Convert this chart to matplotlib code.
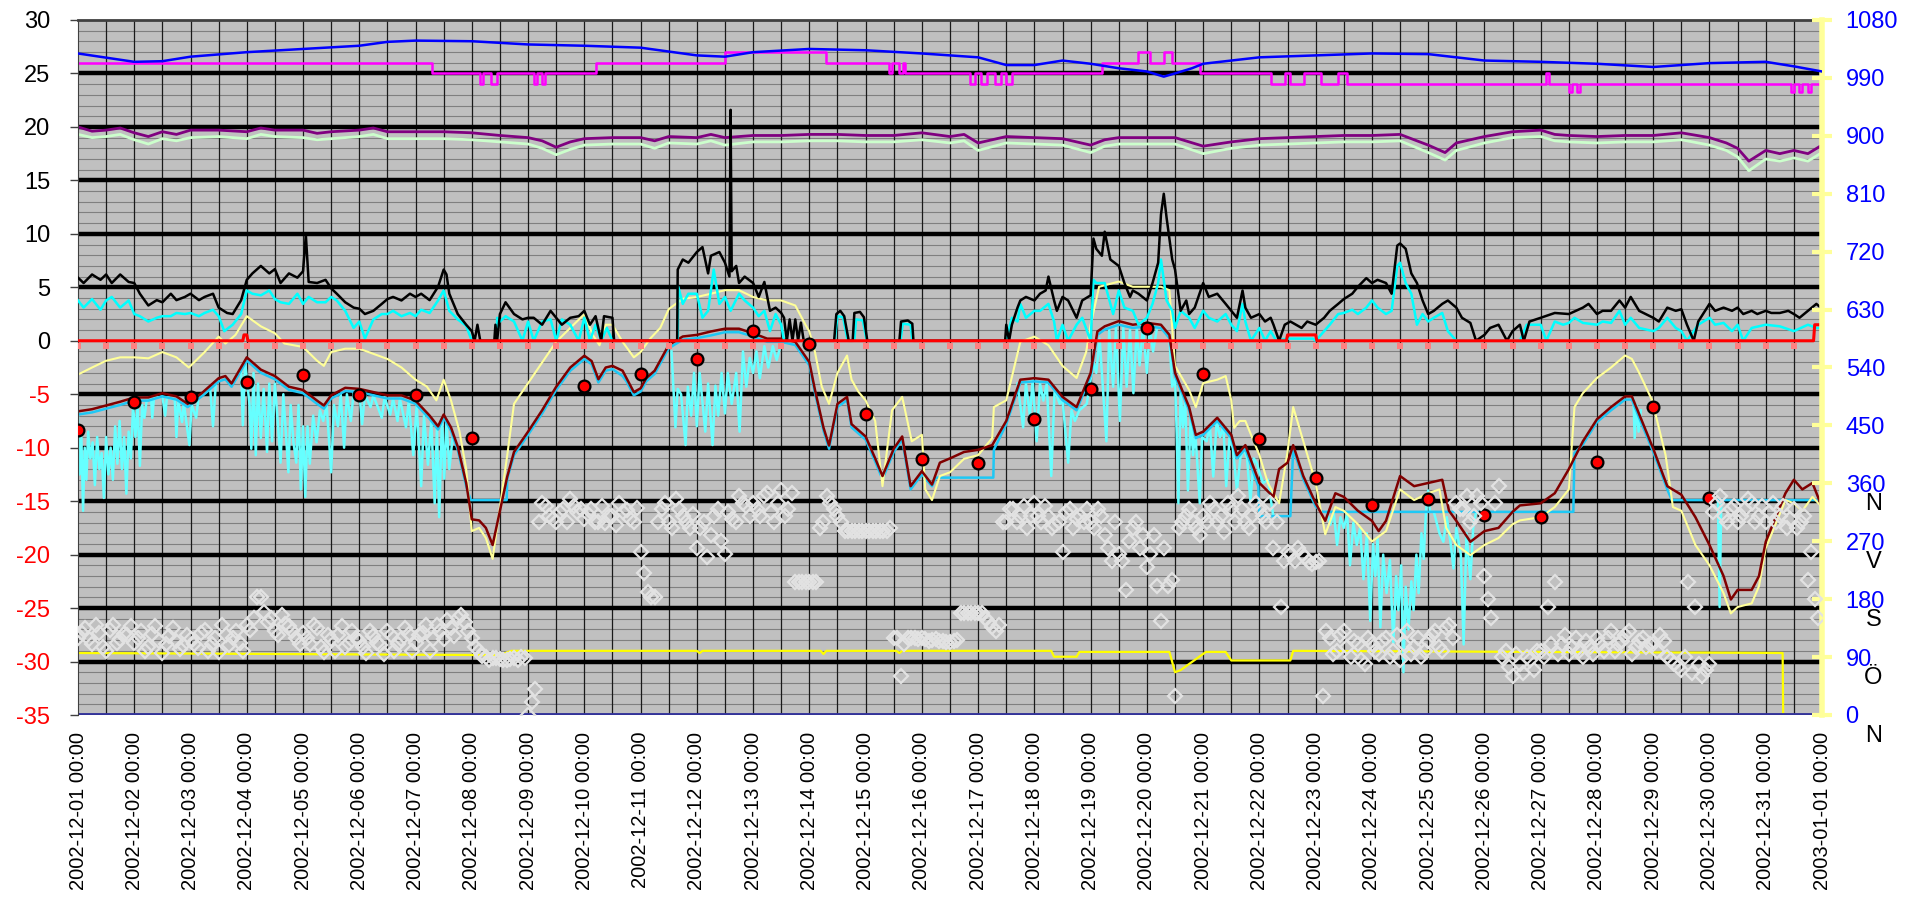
import numpy as np
import pandas as pd
import matplotlib.pyplot as plt

plt.rcParams['font.family'] = ['Liberation Sans', 'DejaVu Sans']

# x axis: days after 2002-12-01 00:00
dates = pd.date_range('2002-12-01', '2003-01-01', freq='D')
date_labels = [d.strftime('%Y-%m-%d %H:%M') for d in dates]

left_ticks = list(range(-35, 31, 5))
right_ticks = list(range(0, 1081, 90))
compass = [(360, 'N'), (270, 'V'), (180, 'S'), (90, 'Ö'), (0, 'N')]

# lufttryck (hPa, höger axel)
pressure = [(0, 1028), (1, 1015), (1.5, 1016), (2, 1023), (3, 1030), (4, 1035), (5, 1040), (5.5, 1046),
            (6, 1048), (7, 1047), (8, 1042), (9, 1040), (10, 1037), (11, 1025), (11.5, 1023), (12, 1030),
            (13, 1035), (14, 1033), (15, 1028), (16, 1022), (16.5, 1010), (17, 1010), (17.5, 1017),
            (18, 1012), (18.5, 1005), (19, 1000), (19.3, 992), (19.5, 997), (19.8, 1005), (20, 1012),
            (20.5, 1017), (21, 1022), (22, 1025), (23, 1028), (24, 1027), (25, 1017), (26, 1015),
            (27, 1012), (28, 1007), (29, 1013), (30, 1015), (30.5, 1008), (31, 1000)]

# trappstegsserie (magenta), värdet gäller till nästa tidpunkt
magenta = [(0, 26), (6.3, 25), (7.15, 24), (7.2, 25), (7.35, 24), (7.45, 25), (8.1, 24), (8.15, 25),
           (8.25, 24), (8.3, 25), (9.2, 26), (11.5, 27), (13.3, 26), (14.42, 25), (14.47, 26), (14.6, 25),
           (14.66, 26), (14.7, 25), (15.85, 24), (15.95, 25), (16.05, 24), (16.15, 25), (16.3, 24),
           (16.4, 25), (16.5, 24), (16.6, 25), (18.2, 26), (18.85, 27), (19.05, 26), (19.3, 27),
           (19.45, 26), (19.95, 25), (21.2, 24), (21.45, 25), (21.55, 24), (21.8, 25), (22.1, 24),
           (22.4, 25), (22.55, 24), (26.1, 25), (26.15, 24), (26.5, 23.3), (26.55, 24), (26.65, 23.3),
           (26.7, 24), (30.45, 23.3), (30.5, 24), (30.6, 23.3), (30.65, 24), (30.75, 23.3), (30.8, 24),
           (31, 24)]

purple = [(0, 20.0), (0.25, 19.6), (0.5, 19.7), (0.75, 19.9), (1, 19.45), (1.25, 19.1), (1.5, 19.55),
          (1.75, 19.3), (2, 19.7), (2.5, 19.7), (3, 19.55), (3.25, 19.9), (3.5, 19.7), (4, 19.7),
          (4.25, 19.4), (4.5, 19.55), (5, 19.7), (5.25, 19.9), (5.5, 19.55), (6, 19.55), (6.5, 19.55),
          (7, 19.45), (7.5, 19.2), (8, 19.0), (8.25, 18.7), (8.5, 18.1), (8.75, 18.6), (9, 18.9), (9.5, 19.0),
          (10, 19.0), (10.25, 18.7), (10.5, 19.1), (11, 19.0), (11.25, 19.3), (11.5, 19.0), (12, 19.2),
          (12.5, 19.2), (13, 19.3), (13.5, 19.3), (14, 19.2), (14.5, 19.2), (15, 19.45), (15.5, 19.1),
          (15.75, 19.3), (16, 18.5), (16.5, 19.1), (17, 19.0), (17.5, 18.9), (18, 18.3), (18.25, 18.8),
          (18.5, 19.0), (19, 19.0), (19.5, 19.0), (20, 18.2), (20.5, 18.6), (21, 18.9), (21.5, 19.0),
          (22, 19.1), (22.5, 19.2), (23, 19.2), (23.5, 19.3), (24, 18.3), (24.3, 17.6), (24.5, 18.5),
          (25, 19.1), (25.5, 19.55), (26, 19.7), (26.25, 19.3), (26.5, 19.2), (27, 19.1), (27.5, 19.2),
          (28, 19.2), (28.5, 19.45), (29, 19.0), (29.3, 18.5), (29.5, 18.0), (29.7, 16.8), (30, 17.8),
          (30.25, 17.5), (30.5, 17.8), (30.75, 17.5), (31, 18.3)]

lightgreen = [(0, 19.3), (0.25, 19.0), (0.5, 19.1), (0.75, 19.3), (1, 18.8), (1.25, 18.4), (1.5, 18.9),
              (1.75, 18.7), (2, 19.0), (2.5, 19.1), (3, 18.9), (3.25, 19.3), (3.5, 19.1), (4, 19.0),
              (4.25, 18.8), (4.5, 18.9), (5, 19.1), (5.25, 19.3), (5.5, 18.9), (6, 18.9), (6.5, 18.9),
              (7, 18.8), (7.5, 18.6), (8, 18.4), (8.25, 18.0), (8.5, 17.4), (8.75, 17.9), (9, 18.3), (9.5, 18.4),
              (10, 18.4), (10.25, 18.0), (10.5, 18.5), (11, 18.4), (11.25, 18.7), (11.5, 18.3), (12, 18.6),
              (12.5, 18.6), (13, 18.7), (13.5, 18.7), (14, 18.6), (14.5, 18.6), (15, 18.8), (15.5, 18.5),
              (15.75, 18.7), (16, 17.8), (16.5, 18.5), (17, 18.4), (17.5, 18.3), (18, 17.6), (18.25, 18.2),
              (18.5, 18.4), (19, 18.4), (19.5, 18.4), (20, 17.5), (20.5, 18.0), (21, 18.3), (21.5, 18.4),
              (22, 18.5), (22.5, 18.6), (23, 18.6), (23.5, 18.7), (24, 17.6), (24.3, 16.9), (24.5, 17.8),
              (25, 18.5), (25.5, 19.0), (26, 19.1), (26.25, 18.7), (26.5, 18.6), (27, 18.5), (27.5, 18.6),
              (28, 18.6), (28.5, 18.8), (29, 18.3), (29.3, 17.8), (29.5, 17.2), (29.7, 15.9), (30, 17.0),
              (30.25, 16.8), (30.5, 17.1), (30.75, 16.8), (31, 17.6)]

# vindby (svart) och medelvind (turkos)
gust = [(0.0, 5.9), (0.1, 5.4), (0.25, 6.2), (0.4, 5.7), (0.5, 6.2), (0.6, 5.4), (0.75, 6.2), (0.9, 5.5),
        (1.0, 5.4), (1.1, 4.4), (1.25, 3.3), (1.4, 3.8), (1.5, 3.6), (1.65, 4.4), (1.75, 3.8), (1.9, 4.1),
        (2.0, 4.4), (2.15, 3.8), (2.25, 4.1), (2.4, 4.4), (2.5, 3.1), (2.65, 2.6), (2.75, 2.5), (2.9, 3.8),
        (3.0, 5.7), (3.1, 6.3), (3.25, 7.0), (3.4, 6.3), (3.5, 6.7), (3.6, 5.4), (3.75, 6.3), (3.9, 5.9),
        (4.0, 6.5), (4.05, 9.9), (4.1, 5.5), (4.25, 5.4), (4.4, 5.7), (4.5, 4.9), (4.6, 4.4), (4.75, 3.6),
        (4.9, 3.1), (5.0, 3.0), (5.1, 2.5), (5.25, 2.8), (5.4, 3.45), (5.5, 3.9), (5.6, 4.1), (5.75, 3.77),
        (5.9, 4.4), (6.0, 4.1), (6.1, 4.4), (6.25, 3.8), (6.4, 5.05), (6.5, 6.66), (6.55, 6.2), (6.6, 4.4),
        (6.75, 2.5), (6.9, 1.5), (7.0, 0.9), (7.05, 0), (7.1, 1.5), (7.15, 0), (7.4, 0), (7.42, 1.5),
        (7.45, 0), (7.5, 2.5), (7.6, 3.6), (7.75, 2.5), (7.9, 2.0), (8.0, 2.15), (8.1, 2.15), (8.25, 1.5),
        (8.4, 2.8), (8.5, 2.15), (8.6, 1.5), (8.75, 2.15), (8.9, 2.3), (9.0, 2.8), (9.1, 1.5), (9.2, 2.3),
        (9.3, 0), (9.35, 2.3), (9.5, 2.15), (9.53, 0), (10.65, 0), (10.66, 6.66), (10.75, 7.6),
        (10.85, 7.3), (11.0, 8.3), (11.1, 8.76), (11.2, 6.3), (11.25, 7.95), (11.4, 8.3), (11.5, 7.3),
        (11.58, 6.0), (11.6, 21.6), (11.62, 6.5), (11.7, 7.0), (11.75, 5.4), (11.85, 6.0), (12.0, 5.4),
        (12.1, 4.1), (12.2, 5.5), (12.3, 2.8), (12.4, 3.1), (12.5, 2.6), (12.55, 2.15), (12.6, 0),
        (12.65, 2.0), (12.7, 0), (12.75, 2.0), (12.8, 0), (12.85, 1.7), (12.9, 0), (13.44, 0), (13.48, 2.5),
        (13.55, 2.8), (13.62, 2.3), (13.7, 0), (13.77, 0), (13.8, 2.6), (13.9, 2.7), (13.97, 2.2),
        (14.03, 0), (14.6, 0), (14.63, 1.8), (14.75, 1.9), (14.83, 1.6), (14.85, 0), (16.48, 0),
        (16.5, 1.5), (16.55, 0), (16.6, 1.5), (16.7, 3.1), (16.75, 3.77), (16.85, 4.1), (17.0, 3.77),
        (17.1, 4.4), (17.2, 4.7), (17.25, 6.0), (17.35, 3.77), (17.4, 2.8), (17.5, 4.1), (17.6, 3.77),
        (17.75, 2.15), (17.85, 3.77), (18.0, 4.25), (18.05, 9.56), (18.1, 8.6), (18.2, 7.95), (18.25, 10.2),
        (18.35, 7.6), (18.5, 7.0), (18.6, 5.4), (18.7, 4.1), (18.75, 4.7), (18.85, 4.4), (19.0, 3.77),
        (19.1, 5.4), (19.2, 7.3), (19.25, 11.8), (19.3, 13.75), (19.35, 11.5), (19.45, 7.6), (19.5, 6.66),
        (19.6, 2.8), (19.7, 3.77), (19.75, 2.5), (19.85, 3.1), (20.0, 5.4), (20.1, 4.1), (20.25, 4.4),
        (20.4, 3.45), (20.5, 2.8), (20.6, 2.15), (20.7, 4.7), (20.75, 3.1), (20.85, 2.15), (21.0, 2.5),
        (21.1, 1.8), (21.2, 2.15), (21.25, 1.5), (21.35, 0), (21.45, 1.5), (21.55, 1.8), (21.65, 1.5),
        (21.75, 1.2), (21.85, 1.8), (22.0, 1.5), (22.15, 2.15), (22.25, 2.8), (22.4, 3.45), (22.5, 3.9),
        (22.65, 4.4), (22.75, 5.05), (22.9, 5.86), (23.0, 5.4), (23.1, 5.7), (23.25, 5.4), (23.35, 4.4),
        (23.45, 8.9), (23.5, 9.1), (23.6, 8.6), (23.7, 6.3), (23.8, 5.4), (23.9, 3.77), (24.0, 2.5),
        (24.1, 2.8), (24.25, 3.45), (24.35, 3.77), (24.5, 3.1), (24.6, 2.15), (24.75, 1.67), (24.85, 0),
        (25.0, 0.55), (25.1, 1.2), (25.25, 1.5), (25.4, 0), (25.5, 0.9), (25.63, 1.5), (25.7, 0),
        (25.8, 1.8), (26.0, 2.15), (26.25, 2.6), (26.5, 2.5), (26.75, 3.1), (26.85, 3.45), (27.0, 2.5),
        (27.1, 2.8), (27.25, 2.8), (27.4, 3.77), (27.5, 3.1), (27.6, 4.1), (27.75, 2.8), (28.0, 2.15),
        (28.1, 1.8), (28.25, 3.1), (28.4, 2.8), (28.5, 2.95), (28.6, 1.5), (28.72, 0), (28.8, 1.8),
        (29.0, 3.45), (29.1, 2.8), (29.25, 3.1), (29.4, 2.8), (29.5, 3.1), (29.6, 2.5), (29.75, 2.8),
        (29.85, 2.5), (30.0, 2.8), (30.1, 2.6), (30.25, 2.6), (30.4, 2.8), (30.5, 2.5), (30.6, 2.15),
        (30.75, 2.8), (30.9, 3.45), (31.0, 3.0)]

wind = [(0.0, 3.77), (0.1, 3.1), (0.25, 3.9), (0.4, 2.9), (0.5, 3.77), (0.6, 4.1), (0.75, 3.1), (0.9, 3.77),
        (1.0, 2.5), (1.1, 2.3), (1.25, 1.8), (1.4, 2.15), (1.5, 2.3), (1.65, 2.3), (1.75, 2.6), (1.9, 2.5),
        (2.0, 2.6), (2.15, 2.3), (2.25, 2.6), (2.4, 2.9), (2.5, 2.3), (2.6, 0.9), (2.75, 1.5), (2.9, 2.5),
        (3.0, 4.7), (3.1, 4.4), (3.25, 4.25), (3.4, 4.7), (3.5, 3.9), (3.6, 3.6), (3.75, 3.45), (3.9, 4.4),
        (4.0, 3.45), (4.1, 4.1), (4.25, 3.6), (4.4, 3.6), (4.5, 4.1), (4.6, 3.77), (4.75, 2.8), (4.9, 1.2),
        (5.0, 1.8), (5.1, 0.2), (5.25, 2.0), (5.4, 2.5), (5.5, 2.5), (5.6, 2.8), (5.75, 2.3), (5.9, 2.6),
        (6.0, 2.3), (6.1, 2.9), (6.25, 2.6), (6.4, 3.77), (6.5, 4.7), (6.6, 2.8), (6.75, 2.0), (6.9, 1.4),
        (7.0, 0), (7.44, 0), (7.45, 2.15), (7.5, 1.8), (7.6, 2.3), (7.75, 1.8), (7.9, 0), (8.0, 1.8),
        (8.1, 0), (8.25, 1.8), (8.4, 2.0), (8.5, 0), (8.6, 2.0), (8.75, 1.5), (8.9, 0), (9.0, 2.15),
        (9.1, 0), (9.2, 1.5), (9.3, 0), (9.4, 1.2), (9.5, 0), (10.66, 0), (10.67, 5.05), (10.75, 3.45),
        (10.85, 4.4), (11.0, 4.4), (11.1, 2.15), (11.2, 2.8), (11.3, 6.66), (11.4, 3.45), (11.5, 4.1),
        (11.6, 2.8), (11.75, 4.4), (11.85, 3.77), (12.0, 3.1), (12.1, 2.3), (12.2, 2.8), (12.3, 0.9),
        (12.4, 2.5), (12.5, 1.5), (12.55, 0), (13.45, 0), (13.5, 2.3), (13.6, 2.2), (13.68, 0), (13.8, 0),
        (13.83, 2.0), (13.95, 1.9), (14.02, 0), (14.62, 0), (14.66, 1.6), (14.8, 1.5), (14.83, 0),
        (16.5, 0), (16.6, 2.15), (16.7, 1.8), (16.75, 3.45), (16.85, 2.15), (17.0, 2.8), (17.1, 2.8),
        (17.25, 3.45), (17.35, 1.8), (17.4, 0), (17.5, 1.5), (17.6, 0), (17.75, 1.5), (17.85, 2.15),
        (18.0, 0), (18.05, 5.7), (18.1, 5.4), (18.25, 5.4), (18.4, 2.5), (18.5, 4.7), (18.6, 3.1),
        (18.75, 2.8), (18.85, 1.5), (19.0, 2.15), (19.1, 3.45), (19.2, 5.4), (19.25, 7.6), (19.35, 3.77),
        (19.45, 2.8), (19.5, 1.2), (19.6, 2.8), (19.75, 2.15), (19.85, 1.2), (20.0, 2.8), (20.1, 2.15),
        (20.25, 1.8), (20.4, 2.5), (20.5, 1.5), (20.6, 0.9), (20.7, 3.45), (20.75, 1.8), (20.85, 0),
        (21.0, 1.2), (21.1, 0), (21.2, 0.9), (21.3, 0), (21.5, 0.2), (21.95, 0.2), (22.0, 0),
        (22.25, 1.5), (22.4, 2.5), (22.5, 2.6), (22.65, 2.9), (22.75, 2.5), (22.9, 3.1), (23.0, 3.77),
        (23.1, 3.1), (23.25, 2.5), (23.35, 2.8), (23.45, 7.0), (23.5, 7.3), (23.6, 5.4), (23.7, 4.4),
        (23.8, 1.5), (23.9, 2.5), (24.0, 1.8), (24.1, 2.15), (24.25, 2.6), (24.35, 0.9), (24.5, 0),
        (25.63, 0), (25.75, 1.5), (26.0, 1.5), (26.1, 0), (26.25, 1.8), (26.4, 1.5), (26.5, 1.67),
        (26.6, 2.15), (26.75, 1.67), (27.0, 1.5), (27.1, 1.8), (27.25, 1.67), (27.4, 2.8), (27.5, 1.5),
        (27.6, 2.15), (27.75, 1.2), (28.0, 0.9), (28.1, 1.2), (28.25, 2.15), (28.4, 1.2), (28.5, 0.9),
        (28.6, 0), (28.8, 1.5), (29.0, 2.15), (29.1, 1.5), (29.25, 1.67), (29.4, 0.9), (29.5, 1.5),
        (29.6, 0), (29.75, 1.2), (30.0, 1.5), (30.25, 1.35), (30.5, 0.9), (30.75, 1.5), (30.9, 1.2),
        (31.0, 1.2)]

# nederbörd (röd linje) och markering var 12:e timme
precip = [(0, 0), (2.93, 0), (2.95, 0.55), (3.0, 0.55), (3.02, 0), (21.48, 0), (21.5, 0.55), (22.0, 0.55),
          (22.02, 0), (30.85, 0), (30.87, 1.5), (31.0, 1.5)]
flag_t = [i * 0.5 for i in range(63)]
flag_v = [-0.45] * 63

# temperatur (mörkröd)
temp = [(0.0, -6.6), (0.25, -6.4), (0.5, -6.05), (0.75, -5.7), (1.0, -5.3), (1.25, -5.3), (1.5, -4.9),
        (1.75, -5.2), (1.95, -5.9), (2.2, -4.9), (2.5, -3.5), (2.62, -3.3), (2.73, -4.0), (3.0, -1.55),
        (3.25, -2.7), (3.5, -3.3), (3.75, -4.3), (4.0, -4.6), (4.25, -5.6), (4.37, -6.05), (4.5, -5.1),
        (4.75, -4.4), (5.0, -4.5), (5.25, -4.8), (5.5, -5.1), (5.75, -5.1), (6.0, -5.6), (6.25, -7.0),
        (6.4, -8.0), (6.5, -6.9), (6.63, -8.1), (6.75, -9.9), (6.9, -13.3), (7.0, -16.7), (7.13, -16.8),
        (7.25, -17.5), (7.37, -19.1), (7.5, -15.9), (7.63, -12.7), (7.75, -10.4), (8.0, -8.5), (8.25, -6.5),
        (8.5, -4.3), (8.75, -2.5), (9.0, -1.4), (9.13, -1.9), (9.25, -3.6), (9.38, -2.5), (9.5, -2.35),
        (9.68, -2.8), (9.75, -3.5), (9.88, -4.8), (10.0, -4.45), (10.1, -3.5), (10.25, -2.8), (10.5, -0.4),
        (10.75, 0.4), (11.0, 0.55), (11.25, 0.87), (11.5, 1.13), (11.75, 1.13), (12.0, 0.7), (12.25, 0.2),
        (12.5, 0.2), (12.75, -0.1), (13.0, -2.0), (13.1, -4.6), (13.25, -8.1), (13.35, -9.8), (13.5, -5.9),
        (13.67, -5.25), (13.75, -7.8), (14.0, -8.95), (14.17, -11.0), (14.3, -12.65), (14.5, -10.1),
        (14.65, -8.95), (14.8, -13.6), (15.0, -12.2), (15.18, -13.45), (15.32, -11.4), (15.5, -11.0),
        (15.75, -10.4), (16.0, -10.2), (16.25, -9.76), (16.5, -7.5), (16.75, -3.64), (17.0, -3.5),
        (17.25, -3.64), (17.5, -5.25), (17.75, -6.2), (18.0, -3.0), (18.12, 0.87), (18.25, 1.35),
        (18.5, 1.84), (18.75, 1.5), (19.0, 1.67), (19.25, 1.5), (19.4, 0.55), (19.5, -3.0), (19.75, -6.2),
        (19.87, -8.8), (20.0, -8.5), (20.25, -7.2), (20.5, -8.8), (20.6, -10.7), (20.75, -9.76),
        (21.0, -13.3), (21.25, -14.6), (21.35, -12.0), (21.5, -11.4), (21.6, -9.76), (21.78, -12.65),
        (22.0, -15.2), (22.17, -16.84), (22.35, -14.26), (22.5, -14.6), (22.75, -15.9), (23.0, -16.84),
        (23.12, -17.8), (23.25, -16.84), (23.5, -12.65), (23.75, -13.6), (24.0, -13.3), (24.25, -13.0),
        (24.37, -15.9), (24.5, -16.84), (24.75, -18.8), (25.0, -17.8), (25.25, -17.5), (25.5, -16.0),
        (25.63, -15.4), (26.0, -15.2), (26.25, -14.26), (26.5, -12.0), (26.75, -9.4), (27.0, -7.34),
        (27.25, -6.2), (27.5, -5.2), (27.62, -5.2), (27.75, -6.86), (28.0, -10.1), (28.25, -13.6),
        (28.5, -14.4), (28.75, -16.5), (29.0, -19.1), (29.25, -22.0), (29.38, -24.2), (29.5, -23.3),
        (29.75, -23.3), (29.88, -22.0), (30.0, -18.8), (30.25, -15.55), (30.35, -14.26), (30.5, -13.0),
        (30.65, -13.9), (30.83, -13.3), (31.0, -15.55)]

# marktemperatur (himmelsblå)
ground = [(0.0, -6.9), (0.25, -6.7), (0.5, -6.35), (0.75, -6.0), (1.0, -5.6), (1.25, -5.6), (1.5, -5.2),
          (1.75, -5.5), (1.95, -6.2), (2.2, -5.2), (2.5, -3.8), (2.62, -3.6), (2.73, -4.3), (3.0, -1.85),
          (3.25, -3.0), (3.5, -3.6), (3.75, -4.6), (4.0, -4.9), (4.25, -5.9), (4.37, -6.35), (4.5, -5.4),
          (4.75, -4.7), (5.0, -4.8), (5.25, -5.1), (5.5, -5.4), (5.75, -5.4), (6.0, -5.9), (6.25, -7.3),
          (6.4, -8.3), (6.5, -7.2), (6.63, -8.4), (6.75, -10.2), (6.9, -13.6), (6.98, -14.9), (7.62, -14.9),
          (7.63, -12.9), (7.75, -10.7), (8.0, -8.8), (8.25, -6.8), (8.5, -4.6), (8.75, -2.8), (9.0, -1.7),
          (9.13, -2.2), (9.25, -3.9), (9.38, -2.8), (9.5, -2.65), (9.68, -3.3), (9.75, -3.8), (9.88, -5.1),
          (10.0, -4.75), (10.1, -3.8), (10.25, -3.1), (10.5, -0.7), (10.75, 0.1), (11.0, 0.25), (11.25, 0.5),
          (11.5, 0.8), (11.75, 0.8), (12.0, 0.4), (12.25, -0.1), (12.5, -0.1), (12.75, -0.4), (13.0, -2.3),
          (13.1, -4.9), (13.25, -8.4), (13.35, -10.1), (13.5, -6.2), (13.67, -5.55), (13.75, -8.1),
          (14.0, -9.25), (14.17, -11.3), (14.3, -12.95), (14.5, -10.4), (14.65, -9.25), (14.8, -13.9),
          (15.0, -12.5), (15.18, -13.6), (15.25, -12.8), (16.27, -12.8), (16.28, -10.2), (16.5, -7.8),
          (16.75, -3.9), (17.0, -3.8), (17.25, -3.9), (17.5, -5.55), (17.75, -6.5), (18.0, -3.3),
          (18.12, 0.55), (18.25, 1.05), (18.5, 1.5), (18.75, 1.2), (19.0, 1.35), (19.25, 1.2), (19.4, 0.25),
          (19.5, -3.3), (19.75, -6.5), (19.87, -9.1), (20.0, -8.8), (20.25, -7.5), (20.5, -9.1), (20.6, -11.0),
          (20.75, -10.1), (20.98, -13.6), (21.0, -16.4), (21.55, -16.4), (21.6, -10.1), (21.78, -12.95),
          (22.0, -15.5), (22.12, -16.0), (26.58, -16.0), (26.6, -10.5), (26.75, -9.7), (27.0, -7.6),
          (27.25, -6.5), (27.5, -5.5), (27.62, -5.5), (27.75, -7.2), (28.0, -10.4), (28.25, -13.9),
          (28.33, -14.9), (31.0, -14.9)]

# ljusturkos serie med nedåtspikar, NaN skiljer avsnitten åt
nan = float('nan')
spikes = [(0.0, -6.9), (0.03, -12.5), (0.06, -9.0), (0.09, -15.9), (0.12, -10.0), (0.15, -13.0), (0.18, -8.5),
          (0.22, -11.0), (0.26, -9.5), (0.3, -13.5), (0.34, -9.0), (0.38, -12.0), (0.42, -10.5), (0.46, -14.7),
          (0.5, -9.0), (0.54, -12.5), (0.58, -10.0), (0.62, -13.0), (0.66, -8.0), (0.7, -11.5), (0.74, -7.5),
          (0.78, -12.0), (0.82, -9.0), (0.86, -14.3), (0.9, -8.5), (0.94, -11.0), (0.98, -6.0), (1.02, -9.0),
          (1.06, -6.0), (1.1, -11.7), (1.14, -6.0), (1.18, -7.2), (1.22, -5.6), (1.3, -5.5), (1.32, -7.2),
          (1.35, -5.4), (1.5, -5.2), (1.55, -7.0), (1.58, -5.3), (1.72, -5.5), (1.75, -9.0), (1.78, -5.6),
          (1.85, -7.6), (1.88, -5.8), (1.98, -9.75), (2.02, -6.0), (2.1, -7.2), (2.14, -5.4), (2.35, -4.5),
          (2.4, -8.0), (2.45, -4.0), (nan, nan),
          (2.9, -2.8), (2.93, -7.9), (2.97, -2.0), (3.05, -6.0), (3.08, -10.1), (3.12, -3.0), (3.16, -10.7),
          (3.2, -4.0), (3.25, -9.1), (3.3, -4.5), (3.36, -10.4), (3.4, -4.0), (3.45, -9.4), (3.5, -4.0),
          (3.55, -7.5), (3.6, -11.4), (3.65, -5.0), (3.7, -9.0), (3.74, -12.3), (3.78, -6.0), (3.83, -9.5),
          (3.88, -11.4), (3.92, -6.0), (3.96, -13.9), (4.0, -8.0), (4.04, -14.6), (4.08, -8.0), (4.12, -11.5),
          (4.18, -7.0), (4.24, -9.5), (4.3, -6.5), (4.36, -7.5), (4.42, -6.0), (4.5, -12.3), (4.55, -6.0),
          (4.62, -8.0), (4.67, -5.0), (4.73, -10.0), (4.78, -5.0), (4.85, -7.5), (4.9, -4.8), (5.0, -4.8),
          (5.05, -7.8), (5.1, -5.0), (5.2, -6.2), (5.25, -5.1), (5.4, -7.2), (5.45, -5.3), (5.55, -6.9),
          (5.6, -5.4), (5.68, -7.5), (5.72, -5.4), (5.83, -8.1), (5.88, -5.6), (5.96, -10.7), (6.02, -6.0),
          (6.1, -13.6), (6.15, -7.0), (6.22, -11.6), (6.28, -7.5), (6.34, -15.2), (6.38, -8.0), (6.42, -16.5),
          (6.47, -7.2), (6.51, -12.9), (6.55, -7.5), (6.6, -12.0), (6.66, -9.0), (nan, nan),
          (10.55, -1.0), (10.62, -8.1), (10.66, -4.5), (10.72, -5.0), (10.8, -9.75), (10.84, -4.3),
          (10.9, -7.0), (10.95, -3.0), (11.0, -8.0), (11.05, -3.0), (11.1, -5.8), (11.15, -8.5), (11.2, -4.0),
          (11.28, -9.75), (11.33, -4.2), (11.38, -7.0), (11.44, -3.0), (11.5, -6.8), (11.55, -3.0),
          (11.62, -5.9), (11.7, -3.0), (11.76, -8.5), (11.82, -1.0), (11.88, -4.3), (11.94, -1.6), (12.0, -3.0),
          (12.06, -1.0), (12.12, -3.5), (12.2, -0.5), (12.27, -2.5), (12.35, -0.5), (12.42, -1.8),
          (12.5, -0.2), (nan, nan),
          (16.7, -4.0), (16.8, -8.1), (16.85, -4.0), (16.92, -7.0), (16.97, -3.7), (17.04, -9.4), (17.1, -4.0),
          (17.16, -5.6), (17.22, -4.0), (17.3, -12.65), (17.36, -4.5), (17.45, -5.9), (17.5, -5.5),
          (17.6, -11.4), (17.66, -6.5), (17.72, -7.5), (17.8, -6.5), (17.93, -5.9), (18.05, -2.0),
          (18.1, -3.0), (18.16, 0.2), (18.28, -9.4), (18.33, 1.0), (18.4, -4.3), (18.45, 1.2), (18.52, -7.5),
          (18.58, 1.2), (18.64, -4.3), (18.7, 1.0), (18.76, -4.9), (18.82, 1.2), (18.87, -2.3), (18.93, 1.2),
          (19.0, -3.0), (19.05, 1.3), (19.11, -1.0), (19.18, 1.2), (nan, nan),
          (19.4, 0.2), (19.45, -4.3), (19.5, -3.5), (19.53, -8.8), (19.56, -15.2), (19.6, -4.5), (19.64, -8.1),
          (19.68, -5.5), (19.73, -14.0), (19.78, -7.0), (19.82, -10.7), (19.86, -8.5), (19.94, -15.2),
          (19.98, -9.0), (20.06, -9.4), (20.12, -8.0), (20.18, -12.7), (20.24, -7.5), (20.3, -9.0),
          (20.36, -8.0), (20.41, -13.6), (20.47, -9.0), (20.53, -10.1), (20.6, -14.0), (20.66, -11.0),
          (20.72, -10.1), (20.78, -11.0), (20.84, -15.0), (20.9, -11.0), (20.95, -11.4), (21.01, -12.5),
          (21.07, -13.3), (21.15, -13.0), (21.25, -16.5), (21.3, -16.4), (nan, nan),
          (22.2, -16.0), (22.26, -17.2), (22.32, -16.0), (22.38, -19.1), (22.44, -16.5), (22.5, -17.5),
          (22.56, -16.2), (22.61, -21.0), (22.67, -17.0), (22.73, -19.1), (22.79, -17.5), (22.85, -22.3),
          (22.91, -18.0), (22.97, -26.2), (23.02, -19.0), (23.06, -22.0), (23.1, -18.5), (23.15, -26.8),
          (23.2, -20.0), (23.26, -23.6), (23.32, -20.5), (23.38, -28.4), (23.43, -22.0), (23.47, -25.2),
          (23.52, -21.0), (23.56, -31.0), (23.6, -23.0), (23.65, -27.0), (23.7, -22.5), (23.74, -25.2),
          (23.79, -20.0), (23.83, -23.6), (23.88, -18.0), (23.92, -20.4), (23.96, -16.0), (24.0, -14.0),
          (24.03, -16.0), (24.1, -16.0), (24.2, -18.0), (24.27, -18.8), (24.33, -16.5), (24.4, -19.0),
          (24.45, -21.3), (24.5, -17.5), (24.58, -20.0), (24.63, -28.4), (24.68, -18.0), (24.75, -22.3),
          (24.8, -17.5), (24.85, -16.0), (nan, nan),
          (27.65, -5.5), (27.67, -9.1), (27.7, -6.0), (27.74, -8.5), (27.78, -6.5), (nan, nan),
          (29.15, -14.9), (29.18, -24.9), (29.21, -14.9), (nan, nan),
          (30.97, -14.9), (31.0, -18.8)]

# ljusgul temperaturserie
paleyellow = [(0.0, -3.16), (0.25, -2.5), (0.5, -1.87), (0.75, -1.55), (1.0, -1.55), (1.25, -1.64),
              (1.5, -1.06), (1.75, -1.55), (1.97, -2.5), (2.25, -1.06), (2.5, 0.39), (2.62, -0.26),
              (2.8, 0.55), (3.0, 2.3), (3.25, 1.35), (3.5, 0.7), (3.67, -0.26), (4.0, -0.58), (4.25, -1.87),
              (4.37, -2.35), (4.5, -1.06), (4.75, -0.74), (5.0, -0.74), (5.25, -1.22), (5.5, -1.7),
              (5.75, -2.5), (6.0, -3.64), (6.2, -4.28), (6.37, -5.57), (6.5, -3.64), (6.63, -5.57),
              (6.78, -8.47), (6.9, -12.0), (7.0, -17.8), (7.13, -17.5), (7.25, -18.45), (7.37, -20.4),
              (7.5, -15.55), (7.63, -10.7), (7.75, -5.9), (8.0, -3.96), (8.25, -2.03), (8.5, -0.1),
              (8.75, 1.2), (9.0, 2.48), (9.15, 0.55), (9.27, -0.42), (9.38, 1.5), (9.5, 1.5), (9.68, -0.1),
              (9.88, -1.55), (10.0, -1.06), (10.17, 0.2), (10.35, 1.2), (10.5, 2.96), (10.75, 3.93),
              (11.0, 4.09), (11.25, 4.4), (11.5, 4.73), (11.75, 4.73), (12.0, 4.09), (12.25, 3.77),
              (12.5, 3.77), (12.75, 3.3), (12.93, 1.5), (13.0, 0.87), (13.1, -1.06), (13.22, -4.28),
              (13.35, -5.9), (13.5, -3.0), (13.67, -1.38), (13.75, -3.64), (13.87, -4.76), (14.0, -5.57),
              (14.17, -7.5), (14.3, -13.6), (14.47, -6.5), (14.65, -5.25), (14.82, -9.4), (15.0, -8.79),
              (15.06, -13.9), (15.18, -14.9), (15.32, -12.65), (15.5, -12.3), (15.75, -11.04), (16.0, -10.7),
              (16.25, -9.1), (16.28, -6.2), (16.5, -5.57), (16.75, -0.1), (17.0, 0.39), (17.25, -0.42),
              (17.5, -2.35), (17.75, -3.48), (17.92, -1.06), (18.0, 1.5), (18.15, 5.05), (18.5, 5.54),
              (18.75, 5.05), (19.0, 5.05), (19.25, 5.05), (19.4, 4.73), (19.5, -2.35), (19.75, -4.6),
              (19.87, -6.2), (20.0, -3.96), (20.25, -3.64), (20.4, -3.3), (20.5, -5.57), (20.55, -8.15),
              (20.65, -7.5), (20.75, -7.5), (21.0, -10.7), (21.15, -13.3), (21.35, -15.2), (21.5, -10.4),
              (21.6, -6.2), (21.78, -9.4), (22.0, -13.3), (22.17, -18.1), (22.35, -15.55), (22.5, -15.9),
              (22.75, -17.16), (23.0, -18.77), (23.25, -17.8), (23.5, -13.9), (23.75, -14.9), (24.0, -14.26),
              (24.2, -13.9), (24.32, -17.5), (24.5, -19.1), (24.75, -20.05), (25.0, -19.1), (25.25, -18.45),
              (25.5, -17.16), (25.63, -16.8), (26.0, -16.5), (26.25, -15.55), (26.5, -13.9), (26.6, -6.2),
              (26.75, -4.9), (27.0, -3.48), (27.25, -2.5), (27.5, -1.38), (27.62, -1.7), (27.75, -3.0),
              (27.98, -5.57), (28.22, -10.7), (28.35, -15.55), (28.5, -15.9), (28.75, -19.1), (29.0, -21.0),
              (29.25, -23.6), (29.38, -25.5), (29.5, -24.9), (29.75, -24.56), (29.88, -22.95), (30.0, -19.4),
              (30.25, -16.2), (30.35, -14.9), (30.5, -15.2), (30.65, -15.9), (30.83, -14.6), (31.0, -15.55)]

# dygnsvärden 00:00 (röda punkter), 12-09 saknas
daily_t = list(range(30))
daily_v = [-8.3, -5.7, -5.25, -3.9, -3.2, -5.1, -5.1, -9.05, nan, -4.2, -3.15, -1.7, 0.95, -0.3, -6.85,
           -11.05, -11.45, -7.3, -4.5, 1.15, -3.1, -9.2, -12.85, -15.4, -14.8, -16.25, -16.5, -11.35,
           -6.15, -14.75]

# gul serie nere vid -29
lowyellow = [(0, -29.2), (7.5, -29.4), (7.7, -29.0), (11.0, -29.0), (11.05, -29.2), (11.1, -29.0),
             (13.2, -29.0), (13.25, -29.3), (13.3, -29.0), (14.55, -29.0), (14.6, -29.2), (14.65, -29.0),
             (17.3, -29.0), (17.35, -29.55), (17.75, -29.55), (17.8, -29.1), (19.4, -29.1), (19.5, -31.0),
             (19.6, -30.8), (20.05, -29.1), (20.4, -29.1), (20.5, -29.9), (21.55, -29.9), (21.6, -29.0),
             (30.3, -29.2), (30.31, -35), (31, -35)]
navy = [(0, -35), (31, -35)]

# vindriktning (grader), en rad per dygn; a = kl 00, 03, ..., 21 och b = 1,5 h senare
winddir_a = [
    [120, 135, 110, 128, 100, 140, 118, 125],
    [112, 130, 105, 138, 96, 122, 115, 108],
    [118, 104, 132, 110, 98, 125, 120, 112],
    [140, 150, 183, 145, 130, 155, 138, 120],
    [128, 110, 135, 98, 118, 125, 105, 130],
    [115, 96, 122, 108, 130, 100, 118, 126],
    [112, 128, 100, 140, 118, 135, 150, 145],
    [120, 100, 90, 88, 87, 86, 88, 90],
    [0, 40, 330, 310, 300, 320, 335, 315],
    [305, 320, 300, 298, 310, 330, 318, 300],
    [254, 191, 183, 320, 300, 335, 310, 290],
    [260, 300, 280, 320, 250, 305, 340, 325],
    [330, 310, 345, 300, 350, 320, 206, 206],
    [206, 206, 300, 330, 310, 286, 286, 286],
    [286, 286, 286, 286, 120, 61, 120, 120],
    [120, 115, 118, 115, 113, 116, 158, 158],
    [158, 150, 136, 140, 300, 320, 310, 290],
    [330, 300, 310, 295, 254, 320, 305, 300],
    [300, 320, 280, 240, 250, 194, 290, 260],
    [230, 280, 146, 200, 30, 300, 320, 290],
    [310, 330, 300, 285, 320, 340, 300, 310],
    [320, 300, 259, 168, 254, 240, 250, 238],
    [238, 29, 120, 100, 130, 90, 110, 80],
    [110, 95, 120, 100, 85, 130, 105, 90],
    [115, 130, 100, 140, 330, 320, 300, 340],
    [216, 151, 356, 100, 61, 80, 90, 70],
    [100, 168, 206, 110, 95, 120, 90, 105],
    [120, 100, 130, 110, 125, 95, 115, 105],
    [110, 125, 90, 80, 70, 206, 168, 60],
    [80, 330, 310, 320, 300, 320, 330, 310],
    [300, 330, 310, 290, 320, 300, 210, 180],
]
winddir_b = [
    [128, 118, 140, 105, 132, 112, 126, 138],
    [120, 100, 126, 115, 110, 135, 102, 124],
    [110, 128, 100, 120, 140, 108, 130, 100],
    [132, 183, 160, 150, 125, 142, 130, 110],
    [120, 140, 105, 125, 100, 138, 112, 120],
    [105, 130, 112, 95, 125, 110, 135, 100],
    [125, 140, 118, 130, 148, 122, 155, 130],
    [105, 92, 86, 88, 86, 87, 86, 89],
    [20, 300, 325, 305, 315, 300, 325, 320],
    [312, 300, 325, 310, 295, 315, 305, 322],
    [220, 183, 300, 330, 290, 320, 300, 312],
    [290, 245, 310, 270, 315, 300, 330, 310],
    [320, 340, 315, 330, 310, 345, 206, 206],
    [206, 290, 340, 320, 300, 286, 286, 286],
    [286, 286, 286, 290, 120, 110, 120, 118],
    [118, 116, 115, 114, 115, 158, 158, 158],
    [158, 145, 130, 300, 320, 300, 325, 310],
    [310, 325, 290, 300, 315, 290, 310, 320],
    [290, 310, 260, 300, 240, 270, 300, 280],
    [250, 200, 260, 210, 290, 310, 300, 280],
    [300, 320, 310, 330, 300, 320, 290, 330],
    [310, 330, 300, 240, 250, 260, 245, 235],
    [240, 130, 95, 125, 105, 115, 85, 120],
    [100, 115, 90, 125, 110, 95, 120, 100],
    [125, 105, 135, 120, 320, 340, 310, 330],
    [180, 330, 90, 75, 95, 65, 85, 100],
    [90, 110, 95, 125, 105, 100, 115, 95],
    [110, 120, 100, 115, 130, 105, 120, 110],
    [100, 115, 85, 75, 90, 65, 80, 70],
    [315, 340, 300, 325, 310, 335, 300, 325],
    [315, 300, 325, 305, 290, 310, 254, 150],
]


def xy(pairs):
    a = np.array(pairs, dtype=float)
    return a[:, 0], a[:, 1]


fig = plt.figure(figsize=(19.3, 9.01), dpi=100)
ax = fig.add_axes([78 / 1930, 1 - 715 / 901, (1822 - 78) / 1930, (715 - 20) / 901])
ax.set_facecolor('#C0C0C0')
ax.set_xlim(0, 31)
ax.set_ylim(-35, 30)

# rutnät
ax.hlines(np.arange(-34, 30, 1), 0, 31, color='#808080', lw=0.8, zorder=1)
ax.vlines(np.arange(0.5, 31, 0.5), -35, 30, color='#1a1a1a', lw=0.9, zorder=1)
ax.hlines([-30, -25, -20, -15, -10, -5, 5, 10, 15, 20, 25], 0, 31, color='black', lw=3.2, zorder=1.5)

t, v = xy(lowyellow)
ax.plot(t, v, color='#FFFF00', lw=1.6, zorder=2)
t, v = xy(navy)
ax.plot(t, v, color='#333399', lw=3.5, zorder=2, solid_capstyle='butt')

t, v = xy(magenta)
ax.plot(t, v, color='#FF00FF', lw=1.8, drawstyle='steps-post', zorder=2)
t, v = xy(lightgreen)
ax.plot(t, v, color='#CCFFCC', lw=2.0, zorder=2)
t, v = xy(purple)
ax.plot(t, v, color='#800080', lw=2.0, zorder=2.1)

t, v = xy(spikes)
ax.plot(t, v, color='#66FFFF', lw=1.8, zorder=2.2)
t, v = xy(ground)
ax.plot(t, v, color='#1EC8F5', lw=1.8, zorder=2.3)
t, v = xy(paleyellow)
ax.plot(t, v, color='#FFFF99', lw=1.5, zorder=2.4)
t, v = xy(temp)
ax.plot(t, v, color='#800000', lw=1.8, zorder=2.5)

t, v = xy(wind)
ax.plot(t, v, color='#00FFFF', lw=1.8, zorder=2.6)
t, v = xy(gust)
ax.plot(t, v, color='black', lw=1.8, zorder=2.7)

ax.plot(flag_t, flag_v, ls='none', marker='s', ms=4.5, color='#FF8080', mew=0, zorder=2.75)
t, v = xy(precip)
ax.plot(t, v, color='#FF0000', lw=2.2, zorder=2.8)

ax.plot(daily_t, daily_v, ls='none', marker='o', ms=8.5, mfc='#FF0000', mec='black', mew=1.6, zorder=3)

# axlar
ax.set_yticks(left_ticks)
ax.set_yticklabels([str(x) for x in left_ticks], fontsize=17)
for lab, val in zip(ax.get_yticklabels(), left_ticks):
    lab.set_color('black' if val >= 0 else '#FF0000')
ax.tick_params(axis='y', direction='out', length=6, width=1, color='#404040', pad=14)
ax.set_xticks(range(len(date_labels)))
ax.set_xticklabels(date_labels, rotation=90, fontsize=14.5, va='top', ha='center')
ax.tick_params(axis='x', length=0, pad=12)
ax.spines['top'].set_color('#404040')
ax.spines['top'].set_linewidth(2)
ax.spines['left'].set_color('#404040')
ax.spines['bottom'].set_visible(False)
ax.spines['right'].set_visible(False)

ax2 = ax.twinx()
ax2.set_ylim(0, 1080)
ax2.set_xlim(0, 31)
dir_t = [d + h / 8 for d in range(len(winddir_a)) for h in range(8)]
dir_t += [d + h / 8 + 1 / 16 for d in range(len(winddir_b)) for h in range(8)]
dir_v = [val for row in winddir_a for val in row] + [val for row in winddir_b for val in row]
ax2.plot(dir_t, dir_v, ls='none', marker='D', ms=7.5, mfc='none', mec='#E2E2E2', mew=1.6, zorder=4)
t, v = xy(pressure)
ax2.plot(t, v, color='#0000FF', lw=1.8, zorder=3)

ax2.set_yticks(right_ticks)
ax2.set_yticklabels([str(x) for x in right_ticks], fontsize=17, color='#0000FF')
ax2.tick_params(axis='y', direction='inout', length=14, width=3, color='#FFFF99', pad=10)
for s in ['top', 'left', 'bottom']:
    ax2.spines[s].set_visible(False)
ax2.spines['right'].set_color('#FFFF99')
ax2.spines['right'].set_linewidth(4)

for deg, name in compass:
    ax2.annotate(name, xy=(1, deg), xycoords=('axes fraction', 'data'), xytext=(37, -15),
                 textcoords='offset points', ha='center', va='center', fontsize=17, color='black')

fig.savefig('out.png', dpi=100)
